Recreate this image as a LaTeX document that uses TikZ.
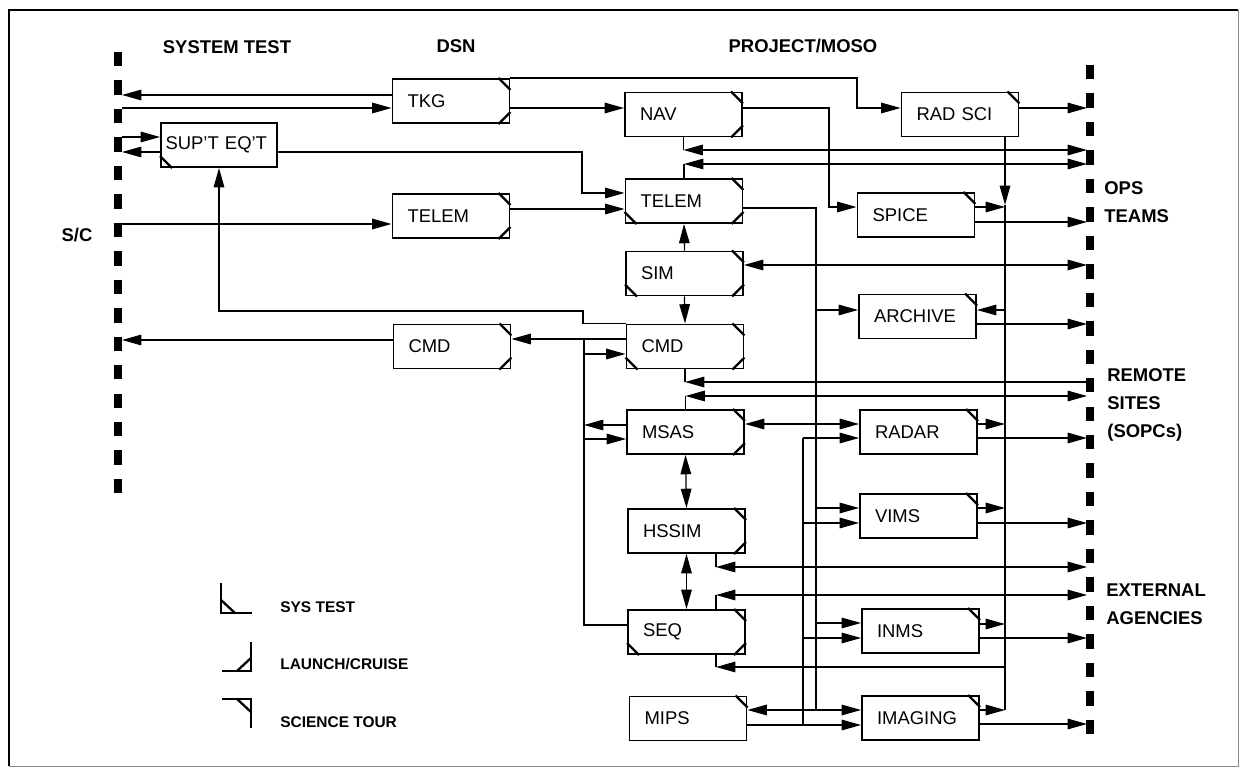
\documentclass[tikz,border=0pt]{standalone}
\usepackage{fontspec}
\setmainfont{Liberation Sans}
\usetikzlibrary{arrows.meta,calc}
\tikzset{
  box/.style={draw,line width=1.1pt,minimum height=0.88cm,text width=1.74cm,inner xsep=0.3cm,align=left,font=\fontsize{10.5}{12}\selectfont},
  head/.style={font=\fontsize{10.5}{16.2}\selectfont\bfseries,inner sep=0pt,align=left},
  keytext/.style={font=\fontsize{8.8}{10}\selectfont\bfseries,inner sep=0pt,anchor=west},
  corner/.style={line width=1.3pt},
  wire/.style={line width=0.7pt},
  arr/.style={line width=0.7pt,-{Triangle[length=11pt,width=6pt]}},
  darr/.style={line width=0.7pt,{Triangle[length=11pt,width=6pt]}-{Triangle[length=11pt,width=6pt]}},
  sideline/.style={line width=4pt,dash pattern=on 8.2pt off 8pt}
}
\newcommand{\tourmark}[1]{\draw[corner] ($(#1.north east)+(-12,0)$) -- ($(#1.north east)+(0,12)$);}
\newcommand{\cruisemark}[1]{\draw[corner] ($(#1.south east)+(-12,0)$) -- ($(#1.south east)+(0,-12)$);}
\newcommand{\testmark}[1]{\draw[corner] ($(#1.south west)+(12,0)$) -- ($(#1.south west)+(0,-12)$);}

\begin{document}
\begin{tikzpicture}[x=0.02cm,y=-0.02cm]
\useasboundingbox (0,0) rectangle (1245,770);
\draw[line width=1.6pt] (9,766) -- (9,10) -- (1238,10);
\draw[line width=0.4pt,black!45] (1238,10) -- (1238,766) -- (9,766);
\draw[sideline] (118,52) -- (118,497);
\draw[sideline] (1090,65) -- (1090,737);
\coordinate (st) at (122,0);
\coordinate (ops) at (1087,0);

\node[head] (sysTitle) at (227,47) {SYSTEM TEST};
\node[head] (dsnTitle) at (456,46) {DSN};
\node[head] (projTitle) at (803,46) {PROJECT/MOSO};
\node[head] (scLabel) at (77,235) {S/C};
\node[head,anchor=west] (opsLabel) at (1104,202) {OPS\\TEAMS};
\node[head,anchor=west] (remoteLabel) at (1107,405) {REMOTE\\SITES\\(SOPCs)};
\node[head,anchor=west] (extLabel) at (1106,604) {EXTERNAL\\AGENCIES};

\node[box] (TKG) at (451,101) {TKG};
\node[box] (Nav) at (683.5,114.5) {NAV};
\node[box] (RadSci) at (960,114.5) {RAD SCI};
\node[box,text width=2.14cm,inner xsep=0.09cm] (Supt) at (219,145) {\mbox{SUP\char39T EQ\char39T}};
\node[box] (TelemDsn) at (451,216) {TELEM};
\node[box] (TelemP) at (684,201) {TELEM};
\node[box] (Spice) at (916,215) {SPICE};
\node[box] (Sim) at (684.5,273.5) {SIM};
\node[box] (Archive) at (917.5,316.5) {ARCHIVE};
\node[box] (CmdDsn) at (452,346.5) {CMD};
\node[box] (CmdP) at (685,346.5) {CMD};
\node[box] (Msas) at (685.5,432) {MSAS};
\node[box] (Radar) at (918.5,432) {RADAR};
\node[box] (Hssim) at (686.5,531) {HSSIM};
\node[box] (Vims) at (918.5,516) {VIMS};
\node[box] (Seq) at (686.5,632) {SEQ};
\node[box] (Inms) at (920.5,631) {INMS};
\node[box] (Mips) at (688,718.5) {MIPS};
\node[box] (Imaging) at (920.5,718) {IMAGING};

\foreach \nm in {TKG,Nav,RadSci,TelemDsn,TelemP,Spice,Sim,Archive,CmdDsn,CmdP,Msas,Radar,Hssim,Vims,Seq,Inms,Mips,Imaging}
  \tourmark{\nm};
\foreach \nm in {TKG,Nav,TelemDsn,TelemP,Sim,CmdDsn,CmdP,Msas,Hssim,Seq}
  \cruisemark{\nm};
\foreach \nm in {Supt,TelemP,Sim,CmdP,Seq}
  \testmark{\nm};

\draw[arr] (TKG.west |- 0,95) -- (st |- 0,95);
\draw[arr] (st |- 0,108) -- (TKG.west |- 0,108);
\draw[arr] (st |- 0,137) -- (Supt.west |- 0,137);
\draw[arr] (Supt.west |- 0,152) -- (st |- 0,152);
\draw[arr] (st |- 0,224) -- (TelemDsn.west |- 0,224);
\draw[arr] (CmdDsn.west |- 0,340) -- (st |- 0,340);

\draw[arr] (TKG.east |- 0,108) -- (Nav.west |- 0,108);
\draw[arr] (TKG.north east) -| (857,108) -- (RadSci.west |- 0,108);
\draw[arr] (Nav.east |- 0,108) -| (829,207) -- (Spice.west |- 0,207);
\draw[arr] (Supt.east |- 0,152) -| (582,193) -- (TelemP.west |- 0,193);
\draw[arr] (TelemDsn.east |- 0,209) -- (TelemP.west |- 0,209);
\draw[arr] (CmdP.west |- 0,339) -- (CmdDsn.east |- 0,339);
\draw[arr] (CmdP.north west) -| (583,311) -| (Supt.south);

\draw[wire] (Seq.west |- 0,625) -| (584,339);
\draw[arr] (584,354) -- (CmdP.west |- 0,354);
\draw[arr] (Msas.west |- 0,425) -- (584,425);
\draw[arr] (584,439) -- (Msas.west |- 0,439);

\draw[arr] (Sim.north) -- (TelemP.south);
\draw[arr] (Sim.south) -- (CmdP.north);
\draw[darr] (Msas.south) -- (Hssim.north);
\draw[darr] (Hssim.south) -- (Seq.north);
\draw[darr] (Msas.east |- 0,424) -- (Radar.west |- 0,424);

\draw[wire] (Nav.south) -- (Nav.south |- 0,150);
\draw[darr] (Nav.south |- 0,150) -- (ops |- 0,150);
\draw[wire] (TelemP.north) -- (TelemP.north |- 0,164);
\draw[darr] (TelemP.north |- 0,164) -- (ops |- 0,164);
\draw[darr] (Sim.east |- 0,265) -- (ops |- 0,265);
\draw[wire] (CmdP.south) -- (CmdP.south |- 0,382);
\draw[arr] (ops |- 0,382) -- (CmdP.south |- 0,382);
\draw[wire] (Msas.north) -- (Msas.north |- 0,396);
\draw[darr] (Msas.north |- 0,396) -- (ops |- 0,396);
\draw[wire] (716,0 |- Hssim.south) -- (716,567);
\draw[darr] (716,567) -- (ops |- 0,567);
\draw[wire] (716,0 |- Seq.north) -- (716,595);
\draw[darr] (716,595) -- (ops |- 0,595);

\draw[arr] (1005,0 |- RadSci.south) -- (1005,205);
\draw[wire] (1005,205) -- (1005,710);
\foreach \nm/\yy in {Spice/207,Radar/424,Vims/508,Inms/624,Imaging/710}
  \draw[arr] (\nm.east |- 0,\yy) -- (1005,\yy);
\draw[arr] (1005,310) -- (Archive.east |- 0,310);
\draw[arr] (1005,667) -- (716,667);
\draw[wire] (716,667) -- (716,0 |- Seq.south);

\draw[wire] (TelemP.east |- 0,208) -| (816,710);
\foreach \nm/\yy in {Archive/310,Vims/508,Inms/623,Imaging/710}
  \draw[arr] (816,\yy) -- (\nm.west |- 0,\yy);
\draw[arr] (816,710) -- (Mips.east |- 0,710);

\draw[arr] (Mips.east |- 0,725) -- (Imaging.west |- 0,725);
\draw[wire] (803,725) -- (803,438);
\foreach \nm/\yy in {Radar/438,Vims/523,Inms/638}
  \draw[arr] (803,\yy) -- (\nm.west |- 0,\yy);

\draw[arr] (RadSci.east |- 0,108) -- (ops |- 0,108);
\foreach \nm/\yy in {Spice/222,Archive/324,Radar/438,Vims/523,Inms/638,Imaging/724}
  \draw[arr] (\nm.east |- 0,\yy) -- (ops |- 0,\yy);

\draw[corner] (221,583) -- (221,613) -- (252,613);
\draw[corner] (221,600) -- (235,613);
\node[keytext] (keyTest) at (280,607) {SYS TEST};
\draw[corner] (222,671) -- (251,671) -- (251,642);
\draw[corner] (237,671) -- (251,658);
\node[keytext] (keyCruise) at (280,664) {LAUNCH/CRUISE};
\draw[corner] (222,699) -- (251,699) -- (251,728);
\draw[corner] (237,699) -- (251,712);
\node[keytext] (keyTour) at (280,722) {SCIENCE TOUR};
\end{tikzpicture}
\end{document}
